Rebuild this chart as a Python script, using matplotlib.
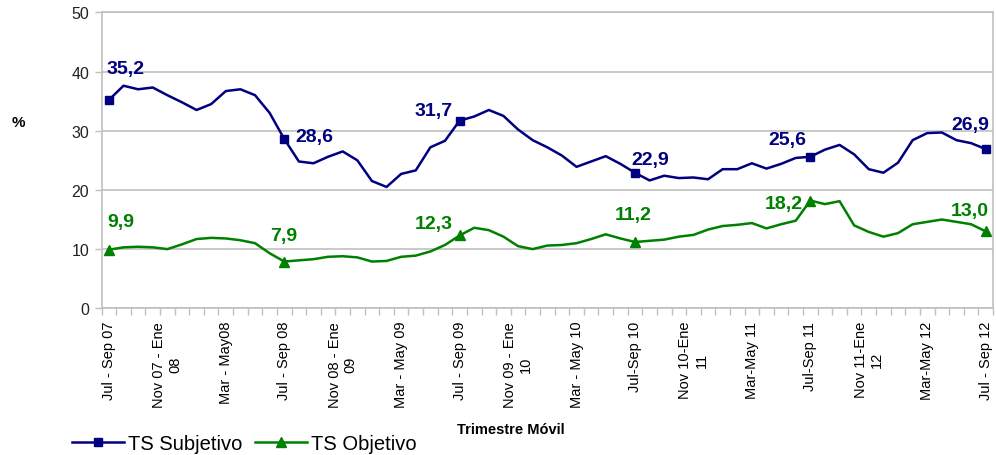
import matplotlib
matplotlib.use("Agg")
import matplotlib.pyplot as plt
import numpy as np

plt.rcParams['font.family'] = ['Liberation Sans', 'DejaVu Sans']

tick_labels = ["Jul - Sep 07", "Nov 07 - Ene\n08", "Mar - May08", "Jul - Sep 08",
               "Nov 08 - Ene\n09", "Mar - May 09", "Jul - Sep 09", "Nov 09 - Ene\n10",
               "Mar - May 10", "Jul-Sep 10", "Nov 10-Ene\n11", "Mar-May 11",
               "Jul-Sep 11", "Nov 11-Ene\n12", "Mar-May 12", "Jul - Sep 12"]

ts_subjetivo = [35.2, 37.6, 37.0, 37.3, 36.0, 34.8, 33.5, 34.5, 36.7, 37.0,
                36.0, 33.0, 28.6, 24.8, 24.5, 25.6, 26.5, 25.0, 21.5, 20.5,
                22.7, 23.3, 27.2, 28.3, 31.7, 32.4, 33.5, 32.5, 30.2, 28.4,
                27.2, 25.8, 23.9, 24.8, 25.7, 24.4, 22.9, 21.6, 22.4, 22.0,
                22.1, 21.8, 23.5, 23.5, 24.5, 23.6, 24.4, 25.4, 25.6, 26.8,
                27.6, 26.0, 23.5, 22.9, 24.6, 28.4, 29.6, 29.7, 28.4, 27.9,
                26.9]

ts_objetivo = [9.9, 10.3, 10.4, 10.3, 10.0, 10.8, 11.7, 11.9, 11.8, 11.5,
               11.0, 9.3, 7.9, 8.1, 8.3, 8.7, 8.8, 8.6, 7.9, 8.0,
               8.7, 8.9, 9.6, 10.7, 12.3, 13.6, 13.2, 12.1, 10.5, 10.0,
               10.6, 10.7, 11.0, 11.7, 12.5, 11.8, 11.2, 11.4, 11.6, 12.1,
               12.4, 13.3, 13.9, 14.1, 14.4, 13.5, 14.2, 14.8, 18.2, 17.6,
               18.1, 14.0, 12.9, 12.1, 12.7, 14.2, 14.6, 15.0, 14.6, 14.2,
               13.0]

marked = [0, 12, 24, 36, 48, 60]

blue = '#000080'
green = '#008000'
grid_c = '#c0c0c0'

fig = plt.figure(figsize=(9.96, 4.56), dpi=100)
ax = fig.add_axes([0.102, 0.3217, 0.895, 0.6491])

x = np.arange(len(ts_subjetivo))
ax.plot(x, ts_subjetivo, color=blue, lw=1.8, marker='s', ms=6,
        markevery=marked, label='TS Subjetivo', zorder=3)
ax.plot(x, ts_objetivo, color=green, lw=1.8, marker='^', ms=7.5,
        markevery=marked, label='TS Objetivo', zorder=3)

ax.set_xlim(-0.5, len(x) - 0.5)
ax.set_ylim(0, 50)
ax.set_yticks(range(0, 51, 10))
ax.yaxis.grid(True, color=grid_c, lw=1.2)
ax.set_axisbelow(True)
for s in ax.spines.values():
    s.set_color(grid_c)
    s.set_linewidth(1.2)

ax.set_xticks(np.arange(0, len(x), 4))
ax.set_xticklabels(tick_labels, rotation=90, ha='center', va='top',
                   multialignment='center', fontsize=10.5)
ax.set_xticks(np.arange(-0.5, len(x), 1), minor=True)
ax.tick_params(axis='x', which='major', length=0, pad=9)
ax.tick_params(axis='x', which='minor', length=5, color=grid_c, width=1)
ax.tick_params(axis='y', length=5, color=grid_c, width=1, labelsize=11.5,
               labelcolor='#222222', pad=4)

def fmt(v):
    return f"{v:.1f}".replace('.', ',')

blue_off = [(-2, 31, 'left'), (11, 2, 'left'), (-7, 10, 'right'),
            (-4, 13, 'left'), (-4, 17, 'right'), (4, 25, 'right')]
green_off = [(-2, 28, 'left'), (-14, 26, 'left'), (-7, 12, 'right'),
             (-20, 28, 'left'), (-8, -3, 'right'), (3, 21, 'right')]

for i, (dx, dy, ha) in zip(marked, blue_off):
    ax.annotate(fmt(ts_subjetivo[i]), (i, ts_subjetivo[i]), xytext=(dx, dy),
                textcoords='offset pixels', ha=ha, va='center',
                color=blue, fontsize=14, fontweight='bold')
for i, (dx, dy, ha) in zip(marked, green_off):
    ax.annotate(fmt(ts_objetivo[i]), (i, ts_objetivo[i]), xytext=(dx, dy),
                textcoords='offset pixels', ha=ha, va='center',
                color=green, fontsize=14, fontweight='bold')

fig.text(18 / 996, 1 - 123 / 456, '%', fontsize=11, fontweight='bold',
         ha='center', va='center')
fig.text(511 / 996, 1 - 430 / 456, 'Trimestre Móvil', fontsize=10.5,
         fontweight='bold', ha='center', va='center')

fig.legend(loc='center left', bbox_to_anchor=(72 / 996, 1 - 445 / 456),
           ncol=2, frameon=False, fontsize=14.5, handlelength=2.6,
           handletextpad=0.2, columnspacing=0.6, borderpad=0,
           borderaxespad=0)

fig.savefig('out.png', dpi=100)
